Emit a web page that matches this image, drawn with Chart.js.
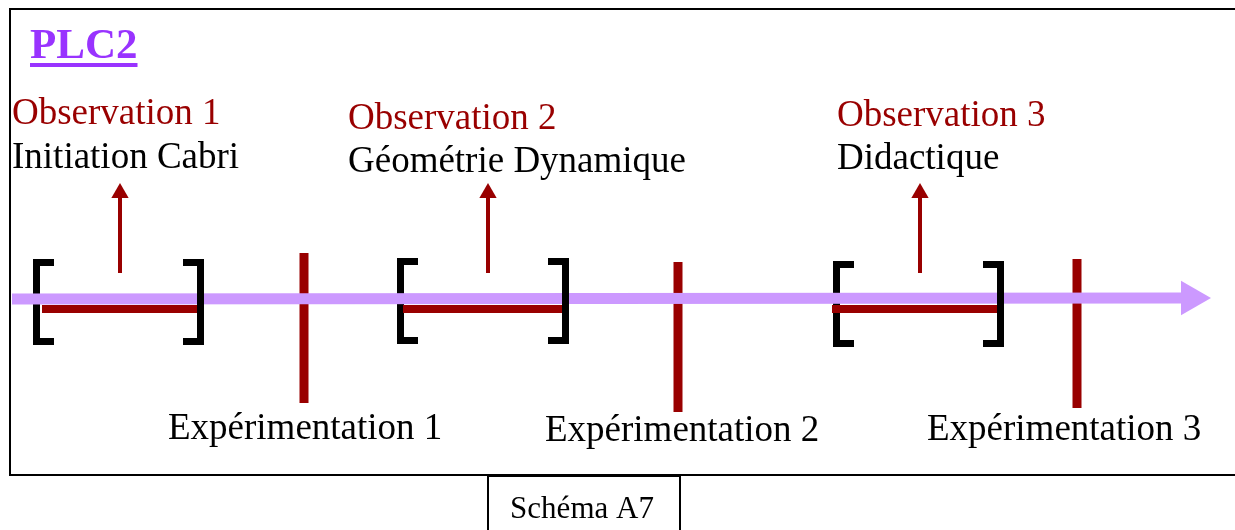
<!DOCTYPE html>
<html><head><meta charset="utf-8">
<script src="https://cdn.jsdelivr.net/npm/chart.js@4.4.1/dist/chart.umd.min.js"></script>
<style>html,body{margin:0;padding:0;background:#fff;overflow:hidden}#wrap{width:1235px;height:530px;position:relative}canvas{display:block}</style>
</head><body><div id="wrap"><canvas id="c" width="1235" height="530"></canvas></div>
<script>
// ---- data (timeline values) ----
const title = 'PLC2';
const observationLabels = ['Observation 1', 'Observation 2', 'Observation 3'];
const observationTopics = ['Initiation Cabri', 'Géométrie Dynamique', 'Didactique'];
const experimentLabels = ['Expérimentation 1', 'Expérimentation 2', 'Expérimentation 3'];
const caption = 'Schéma A7';
const observationStart = [33, 397, 833];
const observationEnd = [204, 569, 1004];
const observationBarStart = [42, 403, 832];
const observationBarEnd = [204, 568, 997];
const observationArrowAt = [120, 488, 920];
const bracketTop = [259, 258, 261];
const experimentAt = [304, 678, 1077];
const experimentTop = [253, 262, 259];
const experimentBottom = [403, 412, 408];
const timelineStart = 12;
const timelineEnd = 1211;

// ---- styles / layout ----
const RED = '#990000', PURPLE = '#CC99FF', BLACK = '#000000';
const SERIF = "'Liberation Serif', 'Times New Roman', serif";
const AXIS_Y = 299, BAR_Y = 309, BRACKET_H = 86, BW = 7, ARM = 21;
const ARROW_BOTTOM = 273, ARROW_TIP = 183, HEAD_R = 10;
const HEAD_PURPLE_R = 20;

function line(points, color, width, order, extra) {
  return Object.assign({
    type: 'line', data: points, borderColor: color, backgroundColor: color,
    borderWidth: width, pointRadius: 0, showLine: true, fill: false,
    borderCapStyle: 'butt', borderJoinStyle: 'miter', tension: 0, order: order
  }, extra || {});
}

const datasets = [];
// outer frame
datasets.push(line([{x:1250,y:9},{x:10,y:9},{x:10,y:475},{x:1250,y:475}], BLACK, 2, 10));
// caption box
datasets.push(line([{x:488,y:545},{x:488,y:476},{x:680,y:476},{x:680,y:545}], BLACK, 2, 10));
// timeline shaft
datasets.push(line([{x:timelineStart,y:AXIS_Y},{x:timelineEnd - 30,y:AXIS_Y - 1}], PURPLE, 11, 2));
// timeline head
datasets.push({type:'scatter', data:[{x:timelineEnd - HEAD_PURPLE_R, y:AXIS_Y - 1}], pointStyle:'triangle',
  pointRotation:90, pointRadius:HEAD_PURPLE_R, pointBackgroundColor:PURPLE, pointBorderWidth:0, order:2});

observationStart.forEach((s, i) => {
  const e = observationEnd[i], t = bracketTop[i] + BW/2, b = bracketTop[i] + BRACKET_H - BW/2;
  // left bracket [
  datasets.push(line([{x:s+ARM,y:t},{x:s+BW/2,y:t},{x:s+BW/2,y:b},{x:s+ARM,y:b}], BLACK, BW, 5));
  // right bracket ]
  datasets.push(line([{x:e-ARM,y:t},{x:e-BW/2,y:t},{x:e-BW/2,y:b},{x:e-ARM,y:b}], BLACK, BW, 1));
  // red bar under the timeline
  datasets.push(line([{x:observationBarStart[i],y:BAR_Y},{x:observationBarEnd[i],y:BAR_Y}], RED, 8, 4));
  // upward arrow
  const ax = observationArrowAt[i];
  datasets.push(line([{x:ax,y:ARROW_BOTTOM},{x:ax,y:ARROW_TIP + 13}], RED, 4, 4));
  datasets.push({type:'scatter', data:[{x:ax, y:ARROW_TIP + HEAD_R}], pointStyle:'triangle',
    pointRotation:0, pointRadius:HEAD_R, pointBackgroundColor:RED, pointBorderWidth:0, order:4});
});
experimentAt.forEach((x, i) => {
  datasets.push(line([{x:x,y:experimentTop[i]},{x:x,y:experimentBottom[i]}], RED, 9, 4));
});

const texts = [];
const obsTextX = [12, 348, 837], obsBase = [124, 129, 126], topicBase = [168, 172, 169];
const expTextX = [168, 545, 927], expBase = [439, 441, 440];
const F = '37px ' + SERIF;
observationLabels.forEach((l, i) => texts.push({t:l, x:obsTextX[i], y:obsBase[i], font:F, color:RED}));
observationTopics.forEach((l, i) => texts.push({t:l, x:obsTextX[i], y:topicBase[i], font:F, color:BLACK}));
experimentLabels.forEach((l, i) => texts.push({t:l, x:expTextX[i], y:expBase[i], font:F, color:BLACK}));
texts.push({t:title, x:30, y:58, font:'bold 43px ' + SERIF, color:'#9933FF', underline:true});
texts.push({t:caption, x:582, y:518, font:'31px ' + SERIF, color:BLACK, align:'center'});

const textPlugin = {
  id: 'diagramText',
  afterDatasetsDraw(chart) {
    const ctx = chart.ctx, xs = chart.scales.x, ys = chart.scales.y;
    ctx.save();
    texts.forEach(o => {
      const px = xs.getPixelForValue(o.x), py = ys.getPixelForValue(o.y);
      ctx.font = o.font; ctx.fillStyle = o.color;
      ctx.textAlign = o.align || 'left'; ctx.textBaseline = 'alphabetic';
      ctx.fillText(o.t, px, py);
      if (o.underline) {
        const w = ctx.measureText(o.t).width;
        ctx.fillRect(px, py + 5, w, 4);
      }
    });
    ctx.restore();
  }
};

new Chart(document.getElementById('c'), {
  type: 'scatter',
  data: { datasets: datasets },
  options: {
    responsive: false, animation: false, events: [],
    layout: { padding: 0, autoPadding: false },
    scales: {
      x: { type: 'linear', min: 0, max: 1235, display: false },
      y: { type: 'linear', min: 0, max: 530, reverse: true, display: false }
    },
    plugins: { legend: { display: false }, tooltip: { enabled: false } }
  },
  plugins: [textPlugin]
});
</script>
</body></html>
